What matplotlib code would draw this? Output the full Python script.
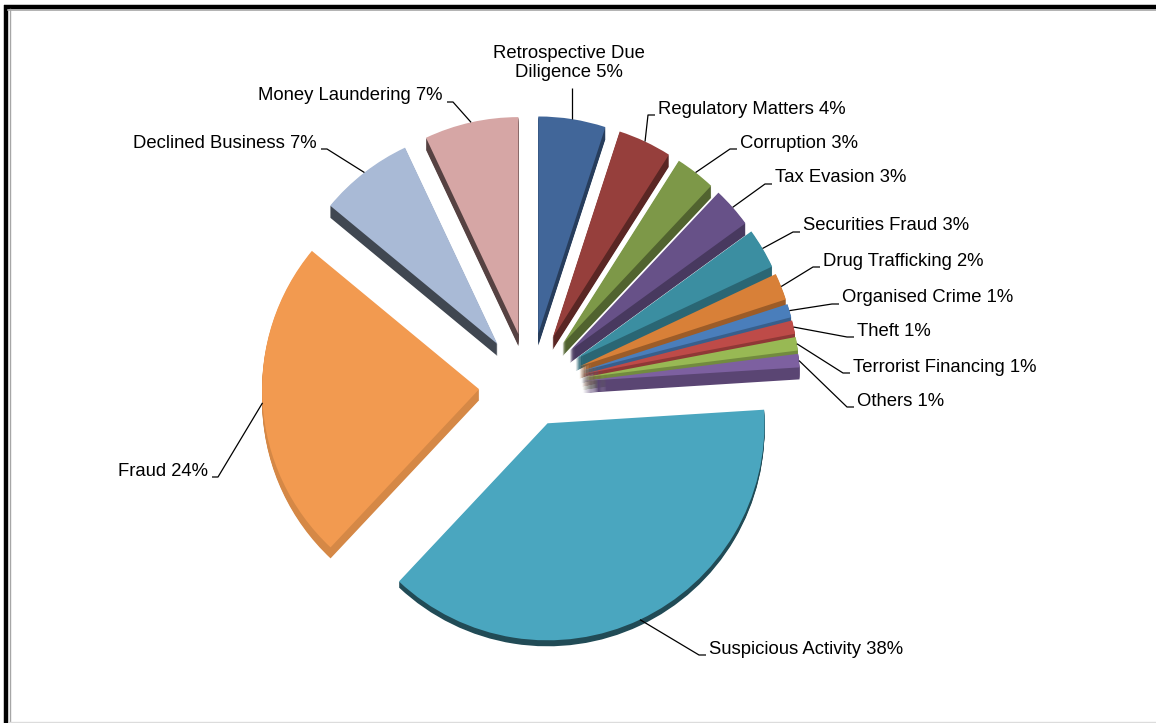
import numpy as np
import matplotlib.pyplot as plt
from matplotlib.colors import to_rgb

plt.rcParams['font.family'] = ['Liberation Sans', 'DejaVu Sans']

# case categories and their share of the total (%)
categories = ['Retrospective Due\nDiligence', 'Regulatory Matters', 'Corruption',
              'Tax Evasion', 'Securities Fraud', 'Drug Trafficking',
              'Organised Crime', 'Theft', 'Terrorist Financing', 'Others',
              'Suspicious Activity', 'Fraud', 'Declined Business',
              'Money Laundering']
shares = [5, 4, 3, 3, 3, 2, 1, 1, 1, 1, 38, 24, 7, 7]

# styling
colors = ['#416699', '#963F3C', '#7D9848', '#675188', '#3B8EA1', '#D88038',
          '#4A7EBB', '#BE4B48', '#98B954', '#7D60A0', '#4AA6BF', '#F29A50',
          '#A9BAD6', '#D6A6A5']
side_shade = [0.6, 0.6, 0.65, 0.7, 0.72, 0.72, 0.75, 0.75, 0.75, 0.72,
              0.45, 0.88, 0.38, 0.4]
side_depth = [12] * 10 + [6, 11, 12, 12]
explode = [0.245] * 10 + [0.19, 0.235, 0.245, 0.245]   # fraction of radius

W, H = 1156, 723
cx, cy = 530, 386
R = 217

# label layout: text anchor and alignment
label_pos = [(569, 63, 'center'), (658, 109, 'left'), (740, 143, 'left'),
             (775, 178, 'left'), (803, 226, 'left'), (823, 261, 'left'),
             (842, 298, 'left'), (857, 331, 'left'), (853, 367, 'left'),
             (857, 401, 'left'), (709, 649, 'left'), (208, 471, 'right'),
             (317, 143, 'right'), (443, 96, 'right')]

fig = plt.figure(figsize=(W / 100, H / 100), dpi=100)
ax = fig.add_axes([0, 0, 1, 1])

# stacking order: slices further up the screen are drawn first
total = float(sum(shares))
cum = np.cumsum([0] + shares)
mid = (cum[:-1] + cum[1:]) / 2.0 / total * 2 * np.pi
rank = np.argsort(np.argsort(-np.cos(mid)))
offsets = [e * R for e in explode]
depth = max(side_depth)

# side walls: the pie repeated, shifted down one pixel at a time
side_cols = [tuple(np.array(to_rgb(c)) * s) for c, s in zip(colors, side_shade)]
for k in range(depth, 0, -1):
    wedges, _ = ax.pie(shares, colors=side_cols, explode=offsets, radius=R,
                       center=(cx, cy + k), startangle=-90, counterclock=True,
                       frame=True, wedgeprops=dict(linewidth=0))
    for i, w in enumerate(wedges):
        w.set_zorder(rank[i] * 100 + (depth - k))
        if k > side_depth[i]:
            w.set_visible(False)

# top faces
wedges, _ = ax.pie(shares, colors=colors, explode=offsets, radius=R,
                   center=(cx, cy), startangle=-90, counterclock=True,
                   frame=True, wedgeprops=dict(linewidth=0))
for i, w in enumerate(wedges):
    w.set_zorder(rank[i] * 100 + depth + 1)

# labels with leader lines
for i, (name, val) in enumerate(zip(categories, shares)):
    tx, ty, ha = label_pos[i]
    ax.text(tx, ty, '%s %d%%' % (name, val), ha=ha, va='center', fontsize=13.3,
            color='black', zorder=3000, linespacing=1.2)
    rr = R * (1 + explode[i])
    ex = cx + rr * np.sin(mid[i])
    ey = cy - rr * np.cos(mid[i])
    if ha == 'center':
        xs, ys = [ex, ex], [ty + 25, ey]
    elif ha == 'left':
        xs, ys = [tx - 3, tx - 10, ex], [ty + 6, ty + 6, ey]
    else:
        xs, ys = [tx + 4, tx + 10, ex], [ty + 6, ty + 6, ey]
    ax.plot(xs, ys, color='black', lw=0.9, zorder=2999, solid_capstyle='butt')

# chart border
ax.plot([6, 6], [5, H], color='black', lw=3.2, solid_capstyle='butt', zorder=4000)
ax.plot([4, W], [7, 7], color='black', lw=3.2, solid_capstyle='butt', zorder=4000)
ax.plot([9.5, 9.5], [9, H - 1], color='#a6a6a6', lw=1.0, zorder=4000)
ax.plot([8, W], [10, 10], color='#a6a6a6', lw=1.2, zorder=4000)
ax.plot([9, W], [H - 1, H - 1], color='#dcdcdc', lw=1.0, zorder=4000)

ax.set_aspect('auto')
ax.set_xlim(0, W)
ax.set_ylim(H, 0)
ax.axis('off')

fig.savefig('out.png', dpi=100, facecolor='white')
